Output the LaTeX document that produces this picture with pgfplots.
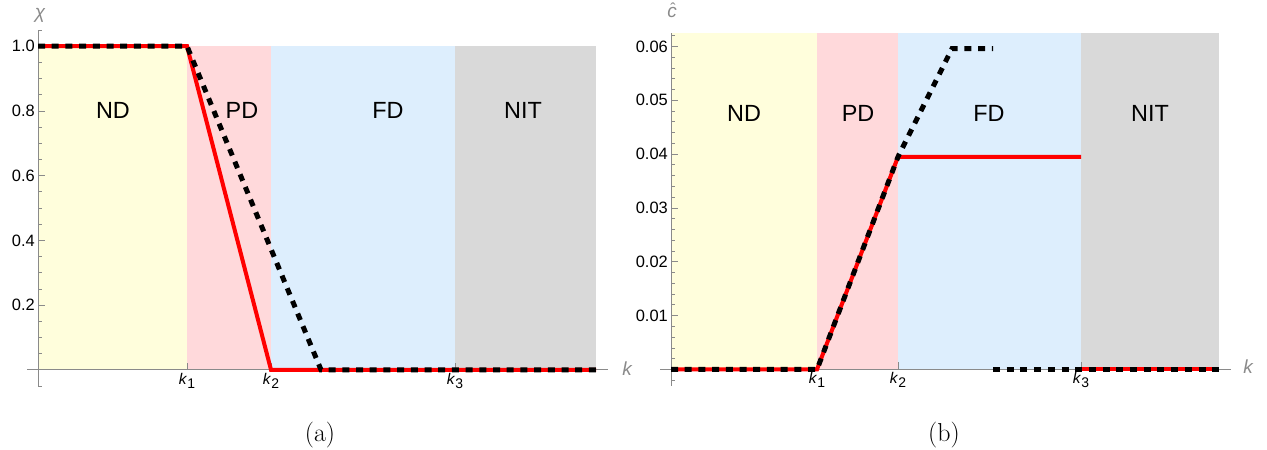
\documentclass[border=0pt]{standalone}
\usepackage{fontspec}
\usepackage{pgfplots}
\pgfplotsset{compat=1.18}
\newfontfamily\mfont{Liberation Sans}
\definecolor{ndc}{HTML}{FFFEDC}
\definecolor{pdc}{HTML}{FFD9DB}
\definecolor{fdc}{HTML}{DDEEFD}
\definecolor{nitc}{HTML}{D9D9D9}
\definecolor{axc}{HTML}{8A8A8A}
\newcommand{\kk}[1]{\textit{k}\raisebox{-4bp}{\fontsize{14}{16}\selectfont #1}}
\tikzset{rlab/.style={font=\mfont\fontsize{23.5}{26}\selectfont},
  alab/.style={font=\mfont\itshape\fontsize{19}{22}\selectfont, text=axc}}
\pgfplotsset{
 mstyle/.style={
  scale only axis, anchor=south west,
  set layers=standard,
  axis lines=middle,
  axis line style={axc, line width=0.8bp, -},
  every inner x axis line/.append style={-},
  every inner y axis line/.append style={-},
  tick align=inside,
  scaled y ticks=false, scaled x ticks=false,
  major tick length=7bp, minor tick length=4bp,
  every tick/.style={axc, line width=0.8bp},
  minor tick style={axc, line width=0.8bp},
  major tick style={axc, line width=0.8bp},
  yticklabel style={font=\mfont\fontsize{16.5}{19}\selectfont, text=black, inner sep=3bp},
  xticklabel style={font=\mfont\fontsize{15.5}{18}\selectfont, text=black, inner sep=3bp},
  clip=false,
 },
 redl/.style={red, line width=4bp},
 blkd/.style={black, line width=5bp, dash pattern=on 7bp off 6.7bp},
 bg/.style={draw=none, on layer=axis background},
}
\begin{document}
\begin{tikzpicture}
% ---------------- (a) ----------------
\begin{axis}[mstyle, at={(27bp,64bp)}, width=581bp, height=356bp,
  xmin=-11, xmax=570, ymin=-0.05, ymax=1.05,
  xtick={149,233,417},
  xticklabels={\kk{1},\kk{2},\kk{3}},
  ytick={0.2,0.4,0.6,0.8,1.0}, yticklabels={0.2,0.4,0.6,0.8,1.0},
  minor ytick={-0.05,0.05,0.1,0.15,0.25,0.3,0.35,0.45,0.5,0.55,0.65,0.7,0.75,0.85,0.9,0.95,1.05}]
\addplot[bg, fill=ndc] coordinates {(0,0) (0,1) (149,1) (149,0)} -- cycle;
\addplot[bg, fill=pdc] coordinates {(149,0) (149,1) (233,1) (233,0)} -- cycle;
\addplot[bg, fill=fdc] coordinates {(233,0) (233,1) (417,1) (417,0)} -- cycle;
\addplot[bg, fill=nitc] coordinates {(417,0) (417,1) (558,1) (558,0)} -- cycle;
\addplot[redl] coordinates {(0,1) (149,1) (233,0) (558,0)};
\addplot[blkd] coordinates {(0,1) (149,1) (283,0) (558,0)};
\node[rlab] at (axis cs:75,0.80) {ND};
\node[rlab] at (axis cs:204,0.80) {PD};
\node[rlab] at (axis cs:350,0.80) {FD};
\node[rlab] at (axis cs:485,0.80) {NIT};
\end{axis}
% ---------------- (b) ----------------
\begin{axis}[mstyle, at={(660bp,64bp)}, width=571bp, height=353bp,
  xmin=-11, xmax=560, ymin=-0.00307, ymax=0.0625,
  xtick={146,227,410},
  xticklabels={\kk{1},\kk{2},\kk{3}},
  ytick={0.01,0.02,0.03,0.04,0.05,0.06}, yticklabels={0.01,0.02,0.03,0.04,0.05,0.06},
  minor ytick={-0.002,0.002,0.004,0.006,0.008,0.012,0.014,0.016,0.018,0.022,0.024,0.026,0.028,0.032,0.034,0.036,0.038,0.042,0.044,0.046,0.048,0.052,0.054,0.056,0.058,0.062}]
\addplot[bg, fill=ndc] coordinates {(0,0) (0,0.0625) (146,0.0625) (146,0)} -- cycle;
\addplot[bg, fill=pdc] coordinates {(146,0) (146,0.0625) (227,0.0625) (227,0)} -- cycle;
\addplot[bg, fill=fdc] coordinates {(227,0) (227,0.0625) (410,0.0625) (410,0)} -- cycle;
\addplot[bg, fill=nitc] coordinates {(410,0) (410,0.0625) (548,0.0625) (548,0)} -- cycle;
\addplot[redl] coordinates {(0,0) (146,0) (227,0.0395) (410,0.0395)};
\addplot[redl] coordinates {(410,0) (548,0)};
\addplot[blkd] coordinates {(0,0) (146,0) (227,0.0395) (281,0.0596) (322,0.0596)};
\addplot[blkd] coordinates {(322,0) (548,0)};
\node[rlab] at (axis cs:73,0.0476) {ND};
\node[rlab] at (axis cs:187,0.0476) {PD};
\node[rlab] at (axis cs:318,0.0476) {FD};
\node[rlab] at (axis cs:479,0.0476) {NIT};
\end{axis}
% axis labels and captions
\node[alab] at (40bp,435bp) {χ};
\node[alab] at (627bp,81bp) {k};
\node[alab, anchor=base] at (672bp,432bp) {c};
\node[alab, anchor=base, font=\mfont\fontsize{16}{18}\selectfont] at (673bp,435bp) {ˆ};
\node[alab] at (1248bp,83bp) {k};
\node[font=\fontsize{26}{30}\selectfont] at (320bp,15bp) {(a)};
\node[font=\fontsize{26}{30}\selectfont] at (944bp,15bp) {(b)};
\pgfresetboundingbox
\useasboundingbox (0,0) rectangle (1267bp,450bp);
\end{tikzpicture}
\end{document}
